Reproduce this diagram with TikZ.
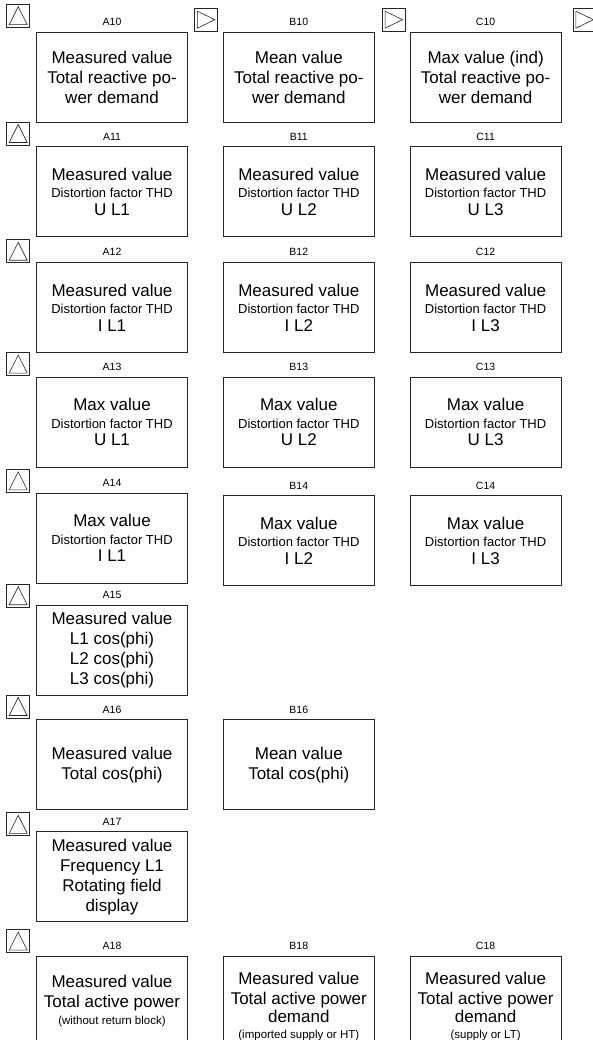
\documentclass[tikz,border=0pt]{standalone}
\usepackage{fontspec}
\setmainfont{Liberation Sans}
\usepackage{tikz}
\usetikzlibrary{positioning}

\newcommand{\thdline}{{\fontsize{13}{15}\selectfont Distortion factor THD}}
\newcommand{\smallnote}[1]{{\fontsize{11.5}{13}\selectfont #1}}

\begin{document}
\begin{tikzpicture}[
  x=1pt, y=-1pt,
  panel/.style={draw=black!85, line width=0.8pt, minimum width=151pt, minimum height=90pt,
    inner sep=2pt, align=center, font=\fontsize{17}{20}\selectfont},
  tallpanel/.style={panel, minimum height=100pt},
  tag/.style={inner sep=0pt, font=\fontsize{10.5}{12}\selectfont},
  icon/.style={draw=black!85, line width=0.8pt, minimum size=23pt, inner sep=0pt},
  upicon/.style={icon, path picture={
    \draw[line width=0.6pt] ([shift={(2.5pt,2.5pt)}]path picture bounding box.south west)
      -- ([shift={(-2.5pt,2.5pt)}]path picture bounding box.south east)
      -- ([shift={(0pt,-2.5pt)}]path picture bounding box.north) -- cycle;}},
  nexticon/.style={icon, path picture={
    \draw[line width=0.6pt] ([shift={(3pt,-3pt)}]path picture bounding box.north west)
      -- ([shift={(3pt,3pt)}]path picture bounding box.south west)
      -- ([shift={(-2.5pt,0pt)}]path picture bounding box.east) -- cycle;}},
  node distance=24pt and 35pt]
  \useasboundingbox (0,0) rectangle (593,1040);
  \clip (0,0) rectangle (593,1040);

  % row 10
  \node[panel] (a10) at (112,77) {Measured value\\Total reactive po-\\wer demand};
  \node[panel, right=of a10] (b10) {Mean value\\Total reactive po-\\wer demand};
  \node[panel, right=of b10] (c10) {Max value (ind)\\Total reactive po-\\wer demand};
  % row 11
  \node[panel, below=of a10] (a11) {Measured value\\[-2.5pt]\thdline\\[-2.5pt]U L1};
  \node[panel, right=of a11] (b11) {Measured value\\[-2.5pt]\thdline\\[-2.5pt]U L2};
  \node[panel, right=of b11] (c11) {Measured value\\[-2.5pt]\thdline\\[-2.5pt]U L3};
  % row 12
  \node[panel, below=25pt of a11] (a12) {Measured value\\[-2.5pt]\thdline\\[-2.5pt]I L1};
  \node[panel, right=of a12] (b12) {Measured value\\[-2.5pt]\thdline\\[-2.5pt]I L2};
  \node[panel, right=of b12] (c12) {Measured value\\[-2.5pt]\thdline\\[-2.5pt]I L3};
  % row 13
  \node[panel, below=of a12] (a13) {Max value\\[-2.5pt]\thdline\\[-2.5pt]U L1};
  \node[panel, right=of a13] (b13) {Max value\\[-2.5pt]\thdline\\[-2.5pt]U L2};
  \node[panel, right=of b13] (c13) {Max value\\[-2.5pt]\thdline\\[-2.5pt]U L3};
  % row 14
  \node[panel, below=25pt of a13] (a14) {Max value\\[-2.5pt]\thdline\\[-2.5pt]I L1};
  \node[panel, right=of a14, yshift=-2.5pt] (b14) {Max value\\[-2.5pt]\thdline\\[-2.5pt]I L2};
  \node[panel, right=of b14] (c14) {Max value\\[-2.5pt]\thdline\\[-2.5pt]I L3};
  % rows 15 to 17
  \node[panel, below=21pt of a14] (a15) {Measured value\\L1 cos(phi)\\L2 cos(phi)\\L3 cos(phi)};
  \node[panel, below=of a15] (a16) {Measured value\\Total cos(phi)};
  \node[panel, right=of a16] (b16) {Mean value\\Total cos(phi)};
  \node[panel, below=21pt of a16] (a17) {Measured value\\Frequency L1\\Rotating field\\display};
  % row 18
  \node[panel, below=34pt of a17] (a18) {Measured value\\Total active power\\[-3pt]\smallnote{(without return block)}};
  \node[tallpanel, right=35pt of a18.north east, anchor=north west] (b18)
    {Measured value\\Total active power\\[-2pt]demand\\[-4pt]\smallnote{(imported supply or HT)}};
  \node[tallpanel, right=35pt of b18.north east, anchor=north west] (c18)
    {Measured value\\Total active power\\[-2pt]demand\\[-4pt]\smallnote{(supply or LT)}};

  % tags over the panels
  \node[tag, above=6pt of a10] (ta10) {A10};
  \node[tag, above=6pt of b10] (tb10) {B10};
  \node[tag, above=6pt of c10] (tc10) {C10};
  \node[tag, above=6pt of a11] (ta11) {A11};
  \node[tag, above=6pt of b11] (tb11) {B11};
  \node[tag, above=6pt of c11] (tc11) {C11};
  \node[tag, above=6pt of a12] (ta12) {A12};
  \node[tag, above=6pt of b12] (tb12) {B12};
  \node[tag, above=6pt of c12] (tc12) {C12};
  \node[tag, above=6pt of a13] (ta13) {A13};
  \node[tag, above=6pt of b13] (tb13) {B13};
  \node[tag, above=6pt of c13] (tc13) {C13};
  \node[tag, above=6pt of a14] (ta14) {A14};
  \node[tag, above=6pt of b14] (tb14) {B14};
  \node[tag, above=6pt of c14] (tc14) {C14};
  \node[tag, above=6pt of a15] (ta15) {A15};
  \node[tag, above=6pt of a16] (ta16) {A16};
  \node[tag, above=6pt of b16] (tb16) {B16};
  \node[tag, above=6pt of a17] (ta17) {A17};
  \node[tag, above=6pt of a18] (ta18) {A18};
  \node[tag, above=6pt of b18] (tb18) {B18};
  \node[tag, above=6pt of c18] (tc18) {C18};

  % navigation icons
  \node[upicon, above left=4pt and 6pt of a10.north west] (up10) {};
  \node[upicon, above left=1pt and 6pt of a11.north west] (up11) {};
  \node[upicon, above left=-1pt and 6pt of a12.north west] (up12) {};
  \node[upicon, above left=1pt and 6pt of a13.north west] (up13) {};
  \node[upicon, above left=0pt and 6pt of a14.north west] (up14) {};
  \node[upicon, above left=-3pt and 6pt of a15.north west] (up15) {};
  \node[upicon, above left=1pt and 6pt of a16.north west] (up16) {};
  \node[upicon, above left=-5pt and 6pt of a17.north west] (up17) {};
  \node[upicon, above left=3pt and 6pt of a18.north west] (up18) {};
  \node[nexticon, above right=0pt and 6pt of a10.north east] (nxtb) {};
  \node[nexticon, above right=0pt and 7pt of b10.north east] (nxtc) {};
  \node[nexticon, above right=0pt and 11pt of c10.north east] (nxtd) {};
\end{tikzpicture}
\end{document}
